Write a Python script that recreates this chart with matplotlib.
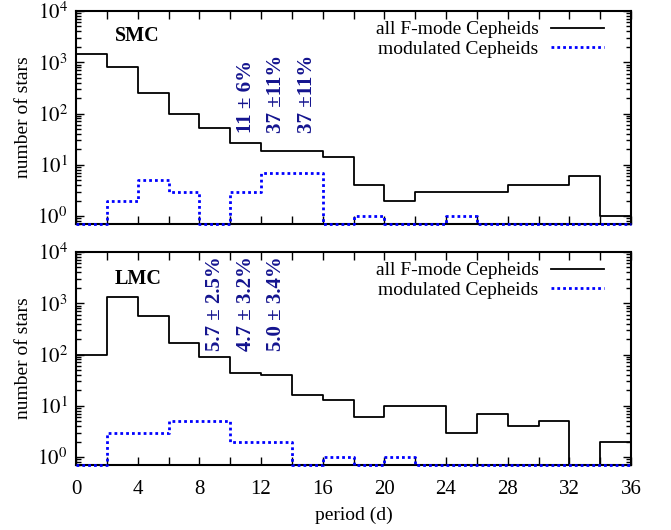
import numpy as np
import matplotlib
matplotlib.use("Agg")
import matplotlib.pyplot as plt
from matplotlib.ticker import LogLocator, MultipleLocator, FixedLocator, FuncFormatter, NullFormatter

plt.rcParams['font.family'] = ['Liberation Serif', 'DejaVu Serif']
plt.rcParams['mathtext.fontset'] = 'stix'

# period bin edges (days)
bin_edges = np.arange(0, 38, 2)

# SMC counts per 2-day bin
smc_all = [1460, 820, 250, 100, 52, 27, 19, 19, 14, 4, 2, 3, 3, 3, 4, 4, 6, 1]
smc_mod = [0, 2, 5, 3, 0, 3, 7, 7, 0, 1, 0, 0, 1, 0, 0, 0, 0, 0]

# LMC counts per 2-day bin
lmc_all = [100, 1350, 560, 170, 89, 43, 40, 16, 13, 6, 10, 10, 3, 7, 4, 5, 0, 2]
lmc_mod = [0, 3, 3, 5, 5, 2, 2, 0, 1, 0, 1, 0, 0, 0, 0, 0, 0, 0]

# incidence of modulation in selected period bins
smc_pct_centers = [11, 13, 15]
smc_pct_labels = ["11 \u00b1 6%", "37 \u00b111%", "37 \u00b111%"]
lmc_pct_centers = [9, 11, 13]
lmc_pct_labels = ["5.7 \u00b1 2.5%", "4.7 \u00b1 3.2%", "5.0 \u00b1 3.4%"]

YMIN, YMAX = 0.70, 1e4
ZERO_LEVEL = 0.71   # empty bins drawn along the floor of the log axis

W, H = 671, 530
fig = plt.figure(figsize=(W / 100, H / 100), dpi=100)

def ax_rect(left, top, right, bottom):
    return [left / W, 1 - bottom / H, (right - left) / W, (bottom - top) / H]

ax_top = fig.add_axes(ax_rect(76, 11, 631, 224))
ax_bot = fig.add_axes(ax_rect(76, 252, 631, 465))

def step_values(vals):
    v = np.array(vals, dtype=float)
    v[v <= 0] = ZERO_LEVEL
    return np.append(v, v[-1])

def draw_panel(ax, all_counts, mod_counts, name, name_y, centers, labels, label_bottom, show_xlabels):
    ax.step(bin_edges, step_values(all_counts), where='post', color='black', lw=1.3,
            label='all F-mode Cepheids', clip_on=False, zorder=3)
    ax.step(bin_edges, step_values(mod_counts), where='post', color='#0000ff', lw=2.0,
            linestyle=(0, (1, 1.1)), label='modulated Cepheids', clip_on=False, zorder=4)
    ax.set_yscale('log')
    ax.set_xlim(0, 36)
    ax.set_ylim(YMIN, YMAX)
    ax.yaxis.set_major_locator(FixedLocator([1, 10, 100, 1000, 10000]))
    ax.yaxis.set_major_formatter(FuncFormatter(lambda v, p: r'$10^{%d}$' % round(np.log10(v))))
    ax.yaxis.set_minor_locator(LogLocator(base=10, subs=np.arange(2, 10)))
    ax.yaxis.set_minor_formatter(NullFormatter())
    ax.xaxis.set_major_locator(MultipleLocator(4))
    ax.xaxis.set_minor_locator(MultipleLocator(2))
    ax.tick_params(which='both', direction='in', top=True, right=True, labelsize=15)
    ax.tick_params(which='major', length=6, width=1)
    ax.tick_params(which='minor', length=3.5, width=1)
    ax.tick_params(axis='x', which='minor', length=6)
    ax.tick_params(axis='y', pad=6)
    ax.tick_params(axis='x', pad=11)
    if not show_xlabels:
        ax.tick_params(axis='x', labelbottom=False)
    for s in ax.spines.values():
        s.set_linewidth(1.5)
    ax.set_ylabel('number of stars', fontsize=14, labelpad=4)
    ax.text(2.5, name_y, name, fontsize=14.5, fontweight='bold', ha='left', va='center')
    for c, t in zip(centers, labels):
        ax.text(c, label_bottom, t, rotation=90, ha='center', va='bottom', color='#14148f',
                fontsize=15, fontweight='bold')
    leg = ax.legend(loc='upper right', frameon=False, markerfirst=False, fontsize=14,
                    handlelength=2.7, handletextpad=0.65, borderaxespad=0.1,
                    labelspacing=0.1, bbox_to_anchor=(0.968, 1.0))
    for t in leg.get_texts():
        t.set_ha('right')

draw_panel(ax_top, smc_all, smc_mod, 'SMC', 10 ** 3.52, smc_pct_centers, smc_pct_labels, 41, False)
draw_panel(ax_bot, lmc_all, lmc_mod, 'LMC', 10 ** 3.48, lmc_pct_centers, lmc_pct_labels, 118, True)
ax_bot.set_xlabel('period (d)', fontsize=14, labelpad=5)

fig.savefig('out.png', dpi=100)
